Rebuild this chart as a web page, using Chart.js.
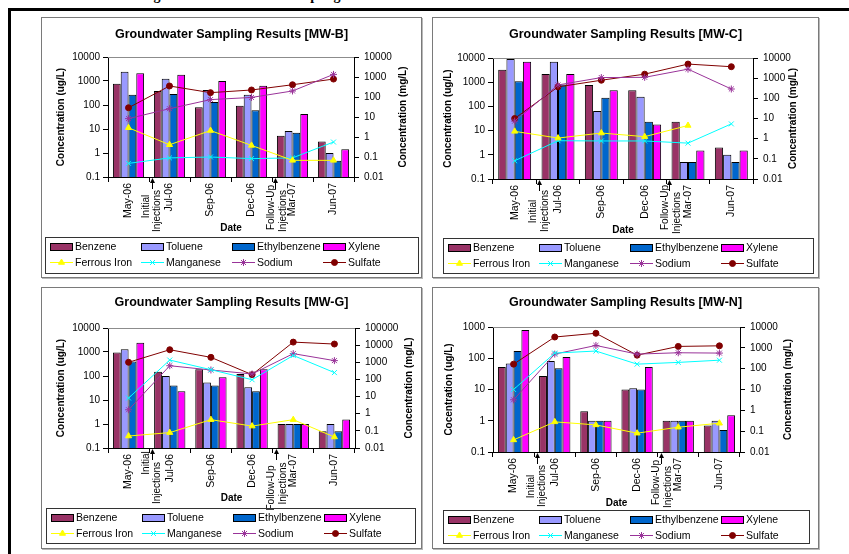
<!DOCTYPE html>
<html>
<head>
<meta charset="utf-8">
<script src="https://cdn.jsdelivr.net/npm/chart.js@4.4.1/dist/chart.umd.min.js"></script>
<style>
  html, body { margin: 0; padding: 0; background: #fff; }
  body { width: 849px; height: 554px; position: relative; overflow: hidden; font-family: "Liberation Sans", Arial, sans-serif; }
  .doc-title { position: absolute; left: 141px; top: -12px; font: bold 14px/16px "Liberation Serif", "Times New Roman", serif; white-space: nowrap; color: #000; }
  .frame-top { position: absolute; left: 8px; top: 8px; width: 841px; height: 3px; background: #000; }
  .frame-left { position: absolute; left: 8px; top: 8px; width: 3px; height: 546px; background: #000; }
  .panel { position: absolute; box-sizing: border-box; border: 1px solid #7a7a7a; box-shadow: 1px 1px 0 #b8b8b8; background: #fff; }
  .panel canvas { position: absolute; left: 0; top: 0; }
</style>
</head>
<body>
<div class="doc-title">Figure 2: Groundwater Sampling Results</div>
<div class="frame-top"></div>
<div class="frame-left"></div>
<script>
// Sampling dates (category axis)
const dates = ['May-06', 'Jul-06', 'Sep-06', 'Dec-06', 'Mar-07', 'Jun-07'];

// Axis tick values
const ugTicks = [0.1, 1, 10, 100, 1000, 10000];
const ugTicksN = [0.1, 1, 10, 100, 1000];
const mgTicks = [0.01, 0.1, 1, 10, 100, 1000, 10000];
const mgTicksG = [0.01, 0.1, 1, 10, 100, 1000, 10000, 100000];

// Series names
const barNames = ['Benzene', 'Toluene', 'Ethylbenzene', 'Xylene'];
const lineNames = ['Ferrous Iron', 'Manganese', 'Sodium', 'Sulfate'];

// MW-B  (BTEX in ug/L, inorganics in mg/L)
const benzeneB = [770, 380, 80, 93, 5.2, 3.0];
const tolueneB = [2400, 1250, 420, 270, 8.2, 1.0];
const ethylbenzeneB = [270, 285, 133, 60, 7, 0.48];
const xyleneB = [2100, 1800, 1000, 640, 42, 1.45];
const ferrousB = [2.9, 0.41, 2.1, 0.38, 0.068, 0.068];
const manganeseB = [0.048, 0.09, 0.1, 0.083, 0.09, 0.56];
const sodiumB = [8.3, 26, 74, 95, 200, 1350];
const sulfateB = [29, 355, 165, 224, 410, 790];

// MW-C
const benzeneC = [3300, 2200, 760, 470, 23, 2];
const tolueneC = [9200, 7000, 65, 250, 0.5, 1];
const ethylbenzeneC = [1100, 800, 230, 23, 0.5, 0.5];
const xyleneC = [7000, 2200, 470, 18, 1.5, 1.5];
const ferrousC = [2.3, 1.07, 1.9, 1.26, 4.5, null];
const manganeseC = [0.08, 0.79, 0.77, 0.77, 0.6, 5.4];
const sodiumC = [7.4, 460, 1070, 1100, 2800, 290];
const sulfateC = [10, 370, 790, 1580, 5000, 3700];

// MW-G
const benzeneG = [950, 150, 190, 120, 1, 0.5];
const tolueneG = [1300, 100, 53, 34, 1, 1];
const ethylbenzeneG = [400, 40, 40, 23, 1, 0.5];
const xyleneG = [2400, 23, 88, 190, 1, 1.55];
const ferrousG = [0.05, 0.079, 0.45, 0.19, 0.45, 0.044];
const manganeseG = [8.2, 1350, 370, 96, 2500, 250];
const sodiumG = [1.7, 630, 355, 208, 3200, 1250];
const sulfateG = [1000, 5400, 1940, 190, 15000, 11600];

// MW-N
const benzeneN = [52, 27, 2, 10, 1, 0.7];
const tolueneN = [68, 81, 1, 11, 1, 1];
const ethylbenzeneN = [170, 48, 1, 10, 1, 0.51];
const xyleneN = [800, 109, 1, 52, 1, 1.5];
const ferrousN = [0.038, 0.28, 0.2, 0.08, 0.155, 0.24];
const manganeseN = [10, 560, 700, 165, 200, 255];
const sodiumN = [3.2, 500, 1300, 500, 580, 560];
const sulfateN = [165, 3300, 5000, 445, 1170, 1250];

// ---- styles ----
const FONT = '"Liberation Sans", Arial, sans-serif';
const barColors = ['#993366', '#9999FF', '#0066CC', '#FF00FF'];
const lineStyles = [
  { color: '#FFFF00', fill: '#FFFF00', pointStyle: 'triangle', radius: 3.5 },
  { color: '#00FFFF', fill: '#00FFFF', pointStyle: 'crossRot', radius: 3.5 },
  { color: '#993399', fill: '#993399', pointStyle: 'star', radius: 3.5 },
  { color: '#800000', fill: '#800000', pointStyle: 'circle', radius: 3 }
];

// ---- panel layout (page pixels) ----
const panels = [
  { title: 'Groundwater Sampling Results [MW-B]', yTitle: 'Concentration (ug/L)',
    bars: [benzeneB, tolueneB, ethylbenzeneB, xyleneB], lines: [ferrousB, manganeseB, sodiumB, sulfateB],
    leftTicks: ugTicks, rightTicks: mgTicks,
    box: [41, 17, 381, 261], plot: [108, 57, 354, 177], titleY: 35, yTitleX: 61, y1TitleX: 403, dateY: 228,
    legend: [45, 237, 373, 36], notes: [29.5, 34, 30.5, 34] },
  { title: 'Groundwater Sampling Results [MW-C]', yTitle: 'Concentration (ug/L)',
    bars: [benzeneC, tolueneC, ethylbenzeneC, xyleneC], lines: [ferrousC, manganeseC, sodiumC, sulfateC],
    leftTicks: ugTicks, rightTicks: mgTicks,
    box: [432, 17, 387, 261], plot: [493, 58, 753, 179], titleY: 35, yTitleX: 448, y1TitleX: 793, dateY: 230,
    legend: [443, 238, 370, 35], notes: [32.5, 32, 28.5, 34] },
  { title: 'Groundwater Sampling Results [MW-G]', yTitle: 'Concentration (ug/L)',
    bars: [benzeneG, tolueneG, ethylbenzeneG, xyleneG], lines: [ferrousG, manganeseG, sodiumG, sulfateG],
    leftTicks: ugTicks, rightTicks: mgTicksG,
    box: [41, 287, 381, 262], plot: [108, 328, 355, 448], titleY: 303, yTitleX: 61, y1TitleX: 409, dateY: 498,
    legend: [46, 508, 369, 35], notes: [15, 35, 40, 35.5] },
  { title: 'Groundwater Sampling Results [MW-N]', yTitle: 'Cocentration (ug/L)',
    bars: [benzeneN, tolueneN, ethylbenzeneN, xyleneN], lines: [ferrousN, manganeseN, sodiumN, sulfateN],
    leftTicks: ugTicksN, rightTicks: mgTicks,
    box: [432, 287, 387, 262], plot: [493, 327, 740, 452], titleY: 303, yTitleX: 449, y1TitleX: 788, dateY: 503,
    legend: [443, 510, 366, 33], notes: [34.5, 34, 30.5, 35] }
];

Chart.defaults.font.family = FONT;
Chart.defaults.color = '#000';

function logAxis(ticks, position, width, tickPad, titleOpts) {
  return {
    type: 'logarithmic', position,
    min: ticks[0], max: ticks[ticks.length - 1],
    afterBuildTicks: s => { s.ticks = ticks.map(v => ({ value: v })); },
    afterFit: s => { s.width = width; },
    grid: { drawOnChartArea: false, drawTicks: true, tickLength: 5, color: '#000' },
    border: { display: true, color: '#000', width: 1 },
    ticks: { autoSkip: false, padding: tickPad, font: { size: 10 }, color: '#000', callback: v => String(v) },
    title: titleOpts
  };
}

function drawDecor(chart, p, ox, oy) {
  const { ctx, chartArea } = chart;
  const xs = chart.scales.x;
  const cw = xs.getPixelForValue(1) - xs.getPixelForValue(0);
  const b1 = xs.getPixelForValue(0) + cw / 2;
  const b4 = xs.getPixelForValue(3) + cw / 2;
  const axisY = chartArea.bottom;
  ctx.save();

  // right axis title, read bottom to top
  ctx.fillStyle = '#000';
  ctx.font = 'bold 10px ' + FONT;
  ctx.textAlign = 'center';
  ctx.textBaseline = 'middle';
  ctx.save();
  ctx.translate(p.y1TitleX - ox, (chartArea.top + chartArea.bottom) / 2);
  ctx.rotate(-Math.PI / 2);
  ctx.fillText('Concentration (mg/L)', 0, 0);
  ctx.restore();

  // injection notes with arrows
  ctx.font = '10px ' + FONT;
  const notes = [
    ['Initial', b1 - 3, p.notes[0]],
    ['Injections', b1 + 8.5, p.notes[1]],
    ['Follow-Up', b4 - 1, p.notes[2]],
    ['Injections', b4 + 11, p.notes[3]]
  ];
  notes.forEach(([t, x, dy]) => {
    ctx.save();
    ctx.translate(x, axisY + dy);
    ctx.rotate(-Math.PI / 2);
    ctx.fillText(t, 0, 0);
    ctx.restore();
  });
  ctx.strokeStyle = '#000';
  ctx.lineWidth = 1;
  [b1 + 3, b4 + 3].forEach(x => {
    const xx = Math.round(x) + 0.5;
    ctx.beginPath();
    ctx.moveTo(xx, axisY + 4);
    ctx.lineTo(xx, axisY + 12);
    ctx.stroke();
    ctx.beginPath();
    ctx.moveTo(xx, axisY + 1);
    ctx.lineTo(xx - 2.5, axisY + 6);
    ctx.lineTo(xx + 2.5, axisY + 6);
    ctx.closePath();
    ctx.fill();
  });

  // legend box
  const [lx, ly, lw, lh] = p.legend;
  const x0 = lx - ox, y0 = ly - oy;
  ctx.strokeStyle = '#333';
  ctx.strokeRect(x0 + 0.5, y0 + 0.5, lw, lh);
  const cols = [5, 96, 187, 278];
  const rows = [8.5, 24.5];
  ctx.textAlign = 'left';
  chart.data.datasets.forEach((ds, i) => {
    const sx = x0 + cols[i % 4];
    const cy = Math.round(y0 + rows[i < 4 ? 0 : 1]);
    if (ds.type === 'line') {
      ctx.strokeStyle = ds.borderColor;
      ctx.lineWidth = 1;
      ctx.beginPath();
      ctx.moveTo(sx, cy + 0.5);
      ctx.lineTo(sx + 23, cy + 0.5);
      ctx.stroke();
      ctx.fillStyle = ds.pointBackgroundColor;
      ctx.strokeStyle = ds.pointBorderColor;
      Chart.helpers.drawPoint(ctx, { pointStyle: ds.pointStyle, radius: ds.pointRadius, rotation: 0, borderWidth: 1 }, sx + 11.5, cy + 0.5);
    } else {
      ctx.fillStyle = ds.backgroundColor;
      ctx.fillRect(sx, cy - 3, 23, 8);
      ctx.strokeStyle = '#000';
      ctx.lineWidth = 1;
      ctx.strokeRect(sx + 0.5, cy - 2.5, 22, 7);
    }
    ctx.fillStyle = '#000';
    ctx.font = '10.5px ' + FONT;
    ctx.fillText(ds.label, sx + 25, cy + 1);
  });
  ctx.restore();
}

panels.forEach(p => {
  const [bx, by, bw, bh] = p.box;
  const ox = bx + 1, oy = by + 1, W = bw - 2, H = bh - 2;
  const L = p.plot[0] - ox, T = p.plot[1] - oy, R = p.plot[2] - ox, B = p.plot[3] - oy;
  const XH = 60;
  const tc = p.titleY - oy;

  const div = document.createElement('div');
  div.className = 'panel';
  Object.assign(div.style, { left: bx + 'px', top: by + 'px', width: bw + 'px', height: bh + 'px' });
  const cv = document.createElement('canvas');
  cv.width = W; cv.height = H;
  cv.style.width = W + 'px'; cv.style.height = H + 'px';
  div.appendChild(cv);
  document.body.appendChild(div);

  const barSets = p.bars.map((d, i) => ({
    type: 'bar', label: barNames[i], data: d, yAxisID: 'y', order: 2,
    backgroundColor: barColors[i], borderColor: '#000', borderWidth: 1,
    categoryPercentage: 0.76, barPercentage: 1
  }));
  const lineSets = p.lines.map((d, i) => ({
    type: 'line', label: lineNames[i], data: d, yAxisID: 'y1', order: 1,
    borderColor: lineStyles[i].color, borderWidth: 1, tension: 0, spanGaps: false,
    pointStyle: lineStyles[i].pointStyle, pointRadius: lineStyles[i].radius,
    pointBackgroundColor: lineStyles[i].fill, pointBorderColor: lineStyles[i].color, pointBorderWidth: 1
  }));

  new Chart(cv, {
    type: 'bar',
    data: { labels: dates, datasets: [...barSets, ...lineSets] },
    options: {
      responsive: false, animation: false, devicePixelRatio: 1,
      layout: { padding: { top: 0, left: 0, right: 0, bottom: H - B - XH } },
      plugins: {
        legend: { display: false },
        tooltip: { enabled: false },
        title: { display: true, text: p.title, color: '#000',
          font: { size: 12.5, weight: 'bold', lineHeight: 1.2 },
          padding: { top: tc - 7.5, bottom: T - tc - 7.5 } }
      },
      scales: {
        x: {
          type: 'category', offset: true,
          afterFit: s => { s.height = XH; },
          grid: { offset: true, drawOnChartArea: false, drawTicks: true, tickLength: 5, color: '#000' },
          border: { display: true, color: '#000', width: 1 },
          ticks: { autoSkip: false, minRotation: 90, maxRotation: 90, padding: 1, font: { size: 10.5 }, color: '#000' },
          title: { display: true, text: 'Date', color: '#000', font: { size: 10, weight: 'bold', lineHeight: 1.2 },
            padding: { top: 0, bottom: B + XH - 6 - (p.dateY - oy) } }
        },
        y: logAxis(p.leftTicks, 'left', L, 3,
          { display: true, text: p.yTitle, color: '#000', font: { size: 10, weight: 'bold', lineHeight: 1.2 },
            padding: { top: (p.yTitleX - ox) - 6, bottom: 0 } }),
        y1: logAxis(p.rightTicks, 'right', W - R, 5, { display: false })
      }
    },
    plugins: [{
      id: 'panelDecor',
      beforeDatasetsDraw(chart) {
        const { ctx, chartArea } = chart;
        ctx.save();
        ctx.strokeStyle = '#8c8c8c';
        ctx.lineWidth = 1;
        ctx.beginPath();
        ctx.moveTo(chartArea.left, Math.round(chartArea.top) + 0.5);
        ctx.lineTo(chartArea.right, Math.round(chartArea.top) + 0.5);
        ctx.stroke();
        ctx.restore();
      },
      afterDraw(chart) { drawDecor(chart, p, ox, oy); }
    }]
  });
});
</script>
</body>
</html>
